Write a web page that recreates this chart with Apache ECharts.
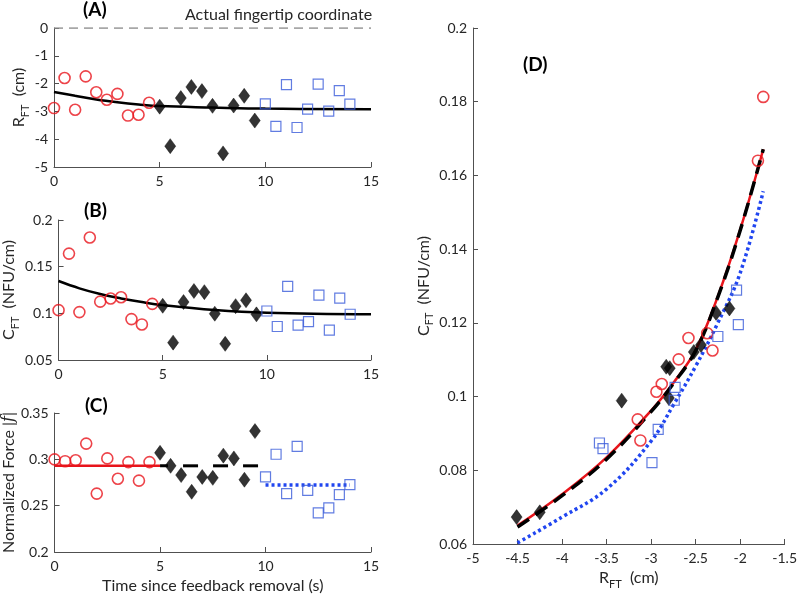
<!DOCTYPE html>
<html>
<head>
<meta charset="utf-8">
<script src="https://cdn.jsdelivr.net/npm/echarts@6/dist/echarts.min.js"></script>
<style>
html, body { margin: 0; padding: 0; background: #fff; }
#main { width: 800px; height: 595px; }
</style>
</head>
<body>
<div id="main"></div>
<script>
// time since feedback removal (s), one array per phase
var tRed = [0, 0.5, 1, 1.5, 2, 2.5, 3, 3.5, 4, 4.5];
var tBlack = [5, 5.5, 6, 6.5, 7, 7.5, 8, 8.5, 9, 9.5];
var tBlue = [10, 10.5, 11, 11.5, 12, 12.5, 13, 13.5, 14];

// R_FT (cm)
var rRed = [-2.88, -1.80, -2.94, -1.74, -2.31, -2.58, -2.37, -3.15, -3.12, -2.69];
var rBlack = [-2.83, -4.25, -2.52, -2.12, -2.27, -2.80, -4.51, -2.79, -2.44, -3.33];
var rBlue = [-2.73, -3.54, -2.04, -3.58, -2.92, -2.02, -2.99, -2.25, -2.74];

// C_FT (NFU/cm)
var cRed = [0.1034, 0.164, 0.1013, 0.1813, 0.1125, 0.1159, 0.1172, 0.0938, 0.0881, 0.1101];
var cBlack = [0.1081, 0.0686, 0.1121, 0.1239, 0.1227, 0.0996, 0.0673, 0.1077, 0.114, 0.0989];
var cBlue = [0.1025, 0.0859, 0.1289, 0.0874, 0.0911, 0.1195, 0.0821, 0.1163, 0.099];

// normalized force |f|
var fRed = [0.300, 0.298, 0.299, 0.317, 0.263, 0.301, 0.279, 0.297, 0.277, 0.297];
var fBlack = [0.307, 0.293, 0.283, 0.265, 0.281, 0.280, 0.304, 0.301, 0.278, 0.3305];
var fBlue = [0.281, 0.3055, 0.263, 0.314, 0.2665, 0.2423, 0.2477, 0.262, 0.2726];

// fitted curves
var fitT = [0, 1, 2, 3, 4, 5, 7.5, 10, 15];
var fitR = [-2.30, -2.44, -2.57, -2.67, -2.75, -2.81, -2.86, -2.90, -2.92];
var fitC = [0.1346, 0.1268, 0.1207, 0.116, 0.1121, 0.1089, 0.1036, 0.1007, 0.099];
var meanF = [0.293, 0.293, 0.2723]; // red, black, blue phase means

// panel D fitted curves
var dX = [-4.5, -4.0, -3.5, -3.0, -2.75, -2.5, -2.25, -2.0, -1.74];
var dRed = [0.0650, 0.0735, 0.0835, 0.0962, 0.1037, 0.1126, 0.1272, 0.1452, 0.1671];
var dBlack = [0.0646, 0.0731, 0.0830, 0.0959, 0.1035, 0.1124, 0.1270, 0.1450, 0.1671];
var dBlue = [0.0603, 0.0673, 0.0749, 0.0879, 0.0977, 0.1082, 0.1200, 0.1335, 0.1557];

var FONT = 'Lato';
var RED = '#e8141b', BLUE = '#3a5bd9', DOTBLUE = '#2146f0', AX = '#505050', TXT = '#262626';

function zip(a, b) {
  return a.map(function (v, i) { return [v, b[i]]; });
}

var myChart = echarts.init(document.getElementById('main'));

var subRich = {
  s: { fontSize: 11, fontFamily: FONT, color: TXT, verticalAlign: 'bottom', padding: [0, 0, -4, 0] },
  i: { fontSize: 16, fontFamily: 'DejaVu Serif', fontStyle: 'italic', color: TXT }
};

function xAx(gi, min, max, interval, name) {
  return {
    type: 'value', gridIndex: gi, min: min, max: max, interval: interval,
    name: name || '', nameLocation: 'middle', nameGap: 26,
    nameTextStyle: { fontSize: 16, fontFamily: FONT, color: TXT, rich: subRich },
    axisLine: { show: true, onZero: false, lineStyle: { color: AX, width: 1 } },
    axisTick: { show: true, inside: true, length: 5, lineStyle: { color: AX } },
    axisLabel: { color: TXT, fontSize: 14, fontFamily: FONT, margin: 7 },
    splitLine: { show: false }
  };
}
function yAx(gi, min, max, interval, name, gap) {
  return {
    type: 'value', gridIndex: gi, min: min, max: max, interval: interval,
    name: name, nameLocation: 'middle', nameGap: gap,
    nameTextStyle: { fontSize: 16, fontFamily: FONT, color: TXT, rich: subRich },
    axisLine: { show: true, onZero: false, lineStyle: { color: AX, width: 1 } },
    axisTick: { show: true, inside: true, length: 5, lineStyle: { color: AX } },
    axisLabel: { color: TXT, fontSize: 14, fontFamily: FONT, margin: 6 },
    splitLine: { show: false }
  };
}

function circles(xi, data) {
  return { type: 'scatter', xAxisIndex: xi, yAxisIndex: xi, data: data, symbol: 'circle', symbolSize: 11, z: 5,
    itemStyle: { color: 'rgba(0,0,0,0)', borderColor: RED, borderWidth: 1.6 } };
}
function diamonds(xi, data) {
  return { type: 'scatter', xAxisIndex: xi, yAxisIndex: xi, data: data, symbol: 'diamond', symbolSize: [11, 15], z: 5,
    itemStyle: { color: '#000', borderColor: '#000', borderWidth: 0.5 } };
}
function squares(xi, data) {
  return { type: 'scatter', xAxisIndex: xi, yAxisIndex: xi, data: data, symbol: 'rect', symbolSize: 10, z: 5,
    itemStyle: { color: 'rgba(0,0,0,0)', borderColor: BLUE, borderWidth: 1.2 } };
}
function line(xi, data, color, width, type, smooth, z, offset) {
  return { type: 'line', xAxisIndex: xi, yAxisIndex: xi, data: data, showSymbol: false, symbol: 'none',
    smooth: smooth ? 0.4 : false, z: z || 3,
    lineStyle: { color: color, width: width, type: type || 'solid', dashOffset: offset || 0 } };
}

var option = {
  backgroundColor: '#fff',
  animation: false,
  grid: [
    { left: 54, top: 28, width: 317, height: 139 },
    { left: 54, top: 220, width: 317, height: 140 },
    { left: 54, top: 413, width: 317, height: 139 },
    { left: 473, top: 28, width: 318, height: 523 }
  ],
  xAxis: [
    xAx(0, 0, 15, 5),
    xAx(1, 0, 15, 5),
    xAx(2, 0, 15, 5, 'Time since feedback removal (s)'),
    xAx(3, -5, -1.5, 0.5, 'R{s|FT}  (cm)')
  ],
  yAxis: [
    yAx(0, -5, 0, 1, 'R{s|FT}  (cm)', 21),
    yAx(1, 0.05, 0.2, 0.05, 'C{s|FT}  (NFU/cm)', 36),
    yAx(2, 0.2, 0.35, 0.05, 'Normalized Force |{i|f}|', 37),
    yAx(3, 0.06, 0.2, 0.02, 'C{s|FT}  (NFU/cm)', 35)
  ],
  graphic: [
    { type: 'text', left: 83, top: 0, style: { text: '(A)', font: 'bold 19px Lato', fill: '#000' } },
    { type: 'text', left: 84, top: 201, style: { text: '(B)', font: 'bold 19px Lato', fill: '#000' } },
    { type: 'text', left: 85, top: 396, style: { text: '(C)', font: 'bold 19px Lato', fill: '#000' } },
    { type: 'text', left: 523, top: 55, style: { text: '(D)', font: 'bold 19px Lato', fill: '#000' } },
    { type: 'text', left: 185, top: 7, style: { text: 'Actual fingertip coordinate', font: '16px Lato', fill: TXT } }
  ],
  series: [
    // (A)
    line(0, [[0, 0], [15, 0]], '#8a8a8a', 1.5, [9, 6]),
    line(0, zip(fitT, fitR), '#000', 2.5, 'solid', true),
    circles(0, zip(tRed, rRed)),
    diamonds(0, zip(tBlack, rBlack)),
    squares(0, zip(tBlue, rBlue)),
    // (B)
    line(1, zip(fitT, fitC), '#000', 2.5, 'solid', true),
    circles(1, zip(tRed, cRed)),
    diamonds(1, zip(tBlack, cBlack)),
    squares(1, zip(tBlue, cBlue)),
    // (C)
    line(2, [[tRed[0], meanF[0]], [tBlack[0], meanF[0]]], RED, 2.5),
    line(2, [[tBlack[0], meanF[1]], [tBlue[0], meanF[1]]], '#000', 3, [15, 15], false, 3, 7),
    line(2, [[tBlue[0], meanF[2]], [tBlue[tBlue.length - 1], meanF[2]]], DOTBLUE, 3.5, [3, 3]),
    circles(2, zip(tRed, fRed)),
    diamonds(2, zip(tBlack, fBlack)),
    squares(2, zip(tBlue, fBlue)),
    // (D)
    line(3, zip(dX, dBlue), DOTBLUE, 3.5, [3, 3], true),
    line(3, zip(dX, dRed), RED, 2.5, 'solid', true),
    line(3, zip(dX, dBlack), '#000', 3.5, [14, 8], true, 4),
    circles(3, zip(rRed, cRed)),
    diamonds(3, zip(rBlack, cBlack)),
    squares(3, zip(rBlue, cBlue))
  ]
};

myChart.setOption(option);
window.onresize = myChart.resize;
</script>
</body>
</html>
